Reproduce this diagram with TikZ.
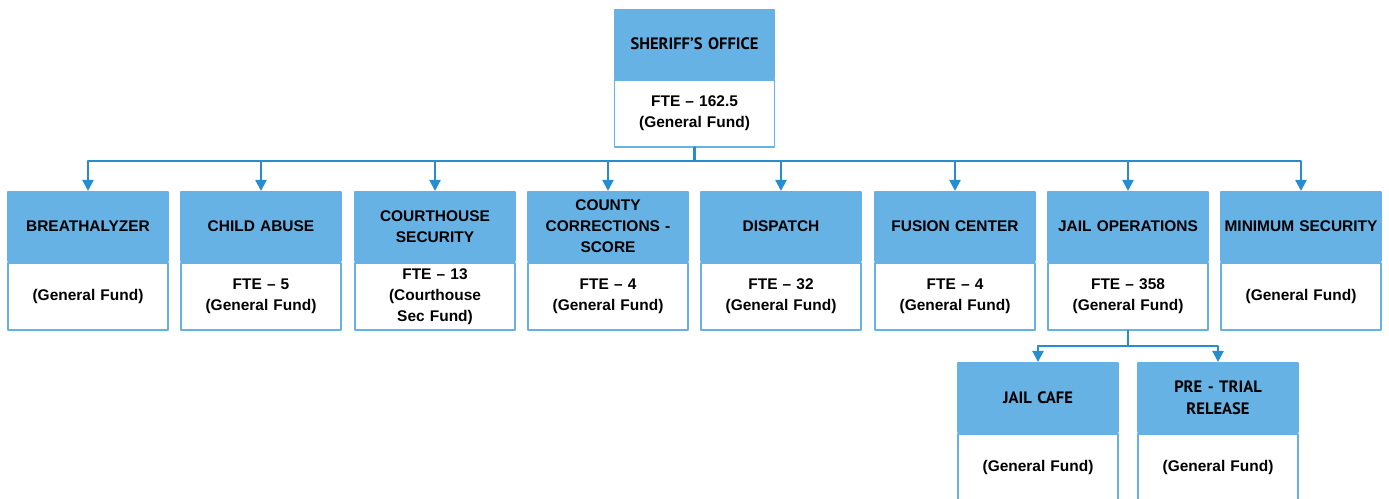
\documentclass[tikz,border=0pt]{standalone}
\usepackage{fontspec}
\setmainfont{Liberation Sans}
\newfontfamily\dinfont{PT Sans}
\usepackage{xcolor}
\usetikzlibrary{arrows.meta,positioning}

\definecolor{azzurro}{RGB}{102,178,229}
\definecolor{bluelinea}{RGB}{38,142,207}

\begin{document}
\begin{tikzpicture}[
		x=0.02cm, y=-0.02cm,
		line cap=round, line join=round,
		hdr/.style={draw=azzurro, fill=azzurro, line width=1.1pt,
				minimum width=3.16cm, minimum height=1.38cm, text width=3.2cm,
				inner xsep=0pt, inner ysep=0pt, align=center, anchor=north,
				font=\bfseries\fontsize{8.8}{12}\selectfont},
		bdy/.style={draw=azzurro, fill=white, line width=1.1pt,
				minimum width=3.16cm, minimum height=1.34cm, text width=3.2cm,
				inner xsep=0pt, inner ysep=0pt, align=center, anchor=north,
				font=\bfseries\fontsize{8.8}{12}\selectfont},
		din/.style={font=\dinfont\bfseries\fontsize{9.4}{12.5}\selectfont},
		conn/.style={draw=bluelinea, line width=1.2pt,
				-{Triangle[length=0.22cm, width=0.22cm]}}]

	\useasboundingbox (0,0) rectangle (1389,499);

	% ---- ufficio: intestazione azzurra + corpo bianco ----
	% \unita{nome}{centro x}{y alto}{intestazione}{corpo}
	\newcommand{\unita}[5]{%
		\node[hdr] (#1h) at (#2,#3) {#4};
		\node[bdy] (#1b) at (#1h.south) {#5};}

	% ---- vertice ----
	\node[hdr, din, minimum height=1.36cm] (sheriffh) at (694.5,9) {SHERIFF’S OFFICE};
	\node[bdy] (sheriffb) at (sheriffh.south) {FTE – 162.5\\(General Fund)};

	% ---- primo livello ----
	\unita{breath}{88}{191}{BREATHALYZER}{(General Fund)}
	\unita{child}{261}{191}{CHILD ABUSE}{FTE – 5\\(General Fund)}
	\unita{court}{435}{191}{COURTHOUSE\\SECURITY}{FTE – 13\\(Courthouse\\Sec Fund)}
	\unita{score}{608}{191}{COUNTY\\CORRECTIONS -\\SCORE}{FTE – 4\\(General Fund)}
	\unita{dispatch}{781}{191}{DISPATCH}{FTE – 32\\(General Fund)}
	\unita{fusion}{955}{191}{FUSION CENTER}{FTE – 4\\(General Fund)}
	\unita{jail}{1128}{191}{JAIL OPERATIONS}{FTE – 358\\(General Fund)}
	\unita{minsec}{1301}{191}{MINIMUM SECURITY}{(General Fund)}

	% ---- secondo livello (sotto jail operations) ----
	\node[hdr, din] (cafeh) at (1038,362) {JAIL CAFE};
	\node[bdy] (cafeb) at (cafeh.south) {(General Fund)};
	\node[hdr, din] (trialh) at (1218,362) {PRE - TRIAL\\RELEASE};
	\node[bdy] (trialb) at (trialh.south) {(General Fund)};

	% ---- collegamenti ----
	\coordinate (bus) at (694.5,161);
	\foreach \u in {breath,child,court,score,dispatch,fusion,jail,minsec}
	\draw[conn] (sheriffb.south) -- (bus) -| (\u h.north);

	\coordinate (busjail) at (1128,346);
	\foreach \u in {cafe,trial}
	\draw[conn] (jailb.south) -- (busjail) -| (\u h.north);

\end{tikzpicture}
\end{document}
